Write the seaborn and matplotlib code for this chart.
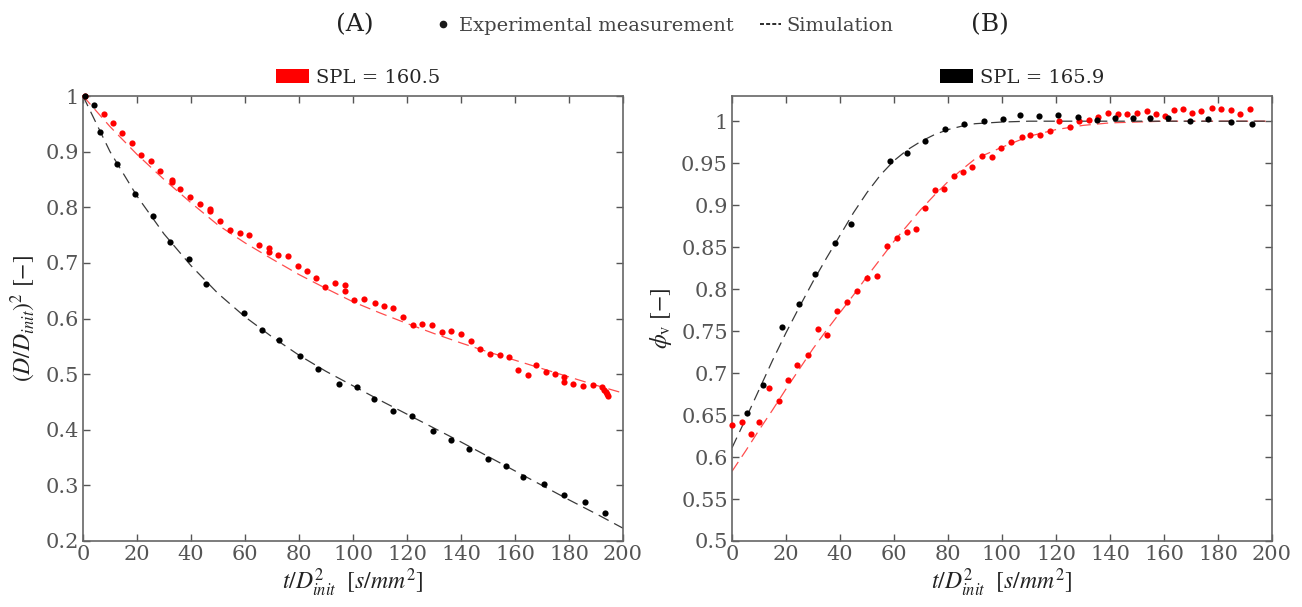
import matplotlib
matplotlib.use("Agg")
import matplotlib.pyplot as plt
from matplotlib.lines import Line2D
from matplotlib.patches import Patch
from matplotlib.ticker import FuncFormatter
import numpy as np
import pandas as pd
import seaborn as sns

# ---------------- data ----------------
# Panel A: (D/D_init)^2 vs t/D_init^2
a_red_x = [0.7, 7.8, 11.0, 14.6, 18.0, 21.5, 25.1, 28.5, 32.8, 32.8, 36.0, 39.6, 43.3, 47.2, 47.2,
           50.7, 54.4, 58.1, 61.6, 65.3, 69.0, 69.0, 72.3, 76.0, 79.5, 83.0, 86.2, 89.6, 93.3, 97.0,
           97.0, 100.5, 104.2, 108.0, 111.4, 114.9, 118.4, 122.1, 125.7, 129.3, 132.8, 136.3, 139.9,
           143.6, 147.1, 150.7, 154.4, 157.9, 161.2, 164.7, 167.9, 171.4, 174.8, 178.3, 178.3, 181.6,
           185.3, 188.8, 192.3, 193.0, 193.6, 194.0, 194.3]
a_red_y = [1.0, 0.967, 0.952, 0.933, 0.915, 0.894, 0.883, 0.865, 0.849, 0.845, 0.833, 0.818, 0.806,
           0.797, 0.793, 0.776, 0.760, 0.754, 0.751, 0.733, 0.727, 0.720, 0.715, 0.712, 0.695, 0.685,
           0.673, 0.657, 0.663, 0.661, 0.649, 0.633, 0.635, 0.628, 0.622, 0.618, 0.602, 0.588, 0.590,
           0.588, 0.575, 0.577, 0.573, 0.560, 0.545, 0.537, 0.534, 0.531, 0.508, 0.498, 0.517, 0.504,
           0.501, 0.494, 0.486, 0.483, 0.479, 0.480, 0.476, 0.472, 0.468, 0.464, 0.461]
a_blk_x = [0.7, 4.1, 6.3, 12.7, 19.4, 25.8, 32.2, 39.3, 45.6, 59.7, 66.2, 72.5, 80.4, 87.2, 94.7,
           101.4, 107.8, 114.9, 122.0, 129.5, 136.3, 143.0, 149.9, 156.5, 162.9, 170.9, 178.1,
           185.9, 193.3]
a_blk_y = [1.0, 0.984, 0.936, 0.877, 0.823, 0.784, 0.737, 0.707, 0.662, 0.610, 0.579, 0.562, 0.532,
           0.510, 0.483, 0.476, 0.456, 0.433, 0.424, 0.398, 0.382, 0.365, 0.348, 0.335, 0.315, 0.303,
           0.282, 0.271, 0.251]
a_sim_x = [0, 10, 20, 30, 40, 50, 60, 70, 80, 90, 100, 110, 120, 130, 140, 150, 160, 170, 180, 190, 200]
a_sim_red = [1.0, 0.945, 0.895, 0.850, 0.808, 0.768, 0.736, 0.707, 0.679, 0.654, 0.630, 0.610,
             0.591, 0.573, 0.556, 0.540, 0.525, 0.510, 0.495, 0.480, 0.466]
a_sim_blk = [1.0, 0.900, 0.820, 0.752, 0.695, 0.645, 0.603, 0.567, 0.534, 0.505, 0.479, 0.453,
             0.428, 0.403, 0.378, 0.352, 0.326, 0.300, 0.274, 0.249, 0.223]

# Panel B: phi_v vs t/D_init^2
b_red_x = [0.0, 3.6, 6.9, 10.1, 13.8, 17.4, 20.9, 24.1, 28.0, 32.0, 35.2, 39.0, 42.6, 46.4, 49.9,
           53.6, 57.4, 61.0, 64.7, 68.0, 71.5, 75.3, 78.6, 82.2, 85.6, 88.9, 92.5, 96.2, 99.6, 103.3,
           107.3, 110.5, 114.2, 117.8, 121.2, 125.2, 128.6, 132.1, 135.4, 139.4, 142.8, 146.4, 149.9,
           153.8, 157.0, 160.4, 163.6, 167.2, 170.5, 173.7, 177.8, 181.0, 184.7, 188.1, 191.7]
b_red_y = [0.638, 0.642, 0.628, 0.642, 0.682, 0.667, 0.692, 0.710, 0.722, 0.752, 0.745, 0.774,
           0.785, 0.798, 0.813, 0.816, 0.851, 0.861, 0.868, 0.872, 0.897, 0.918, 0.919, 0.935,
           0.940, 0.945, 0.959, 0.957, 0.968, 0.975, 0.981, 0.983, 0.983, 0.988, 1.000, 0.993,
           1.000, 1.002, 1.005, 1.010, 1.009, 1.008, 1.010, 1.012, 1.009, 1.006, 1.013, 1.015,
           1.010, 1.012, 1.016, 1.014, 1.013, 1.009, 1.015]
b_blk_x = [5.4, 11.6, 18.5, 24.9, 30.9, 38.3, 44.2, 58.5, 64.8, 71.5, 79.0, 85.8, 93.4, 100.5,
           106.7, 113.7, 120.7, 128.3, 135.2, 141.9, 148.5, 154.8, 161.5, 169.6, 176.4, 184.7, 192.5]
b_blk_y = [0.652, 0.686, 0.755, 0.782, 0.818, 0.855, 0.878, 0.952, 0.962, 0.976, 0.991, 0.997,
           1.000, 1.003, 1.007, 1.006, 1.007, 1.005, 1.002, 1.004, 1.004, 1.004, 1.004, 1.000,
           1.003, 0.999, 0.997]
b_sim_x = [0, 5, 10, 15, 20, 25, 30, 35, 40, 45, 50, 55, 60, 65, 70, 75, 80, 85, 90, 95, 100,
           110, 120, 130, 140, 150, 160, 170, 180, 190, 200]
b_sim_red = [0.583, 0.607, 0.632, 0.656, 0.681, 0.705, 0.729, 0.751, 0.772, 0.793, 0.815, 0.836,
             0.857, 0.876, 0.895, 0.912, 0.928, 0.942, 0.955, 0.962, 0.969, 0.982, 0.990, 0.995,
             0.998, 0.999, 1.0, 1.0, 1.0, 1.0, 1.0]
b_sim_blk = [0.611, 0.645, 0.680, 0.715, 0.748, 0.779, 0.809, 0.837, 0.864, 0.891, 0.915, 0.936,
             0.953, 0.966, 0.976, 0.984, 0.990, 0.994, 0.997, 0.998, 0.999, 1.0, 1.0, 1.0, 1.0,
             1.0, 1.0, 1.0, 1.0, 1.0, 1.0]

x_ticks = [0, 20, 40, 60, 80, 100, 120, 140, 160, 180, 200]
a_yticks = [0.2, 0.3, 0.4, 0.5, 0.6, 0.7, 0.8, 0.9, 1.0]
b_yticks = [0.5, 0.55, 0.6, 0.65, 0.7, 0.75, 0.8, 0.85, 0.9, 0.95, 1.0]

header_labels = ["(A)", "(B)"]
legend_labels = ["Experimental measurement", "Simulation"]
spl_labels = ["SPL = 160.5", "SPL = 165.9"]

# ---------------- styling ----------------
sns.set_theme(style="white")
plt.rcParams["font.family"] = ["DejaVu Serif"]
plt.rcParams["mathtext.fontset"] = "stix"

RED = "#ff0000"
BLK = "#000000"
RED_LINE = "#ff4d4d"
BLK_LINE = "#3a3a3a"
GRAY = "#555555"

W, H = 1302, 607
fig = plt.figure(figsize=(W / 100, H / 100), dpi=100)
axA = fig.add_axes([83 / W, 1 - 541 / H, 540 / W, 445 / H])
axB = fig.add_axes([732 / W, 1 - 541 / H, 540 / W, 445 / H])


def draw(ax, rx, ry, bx, by, sx, sred, sblk):
    sim = pd.DataFrame({"x": sx, "red": sred, "blk": sblk})
    sns.lineplot(data=sim, x="x", y="red", ax=ax, color=RED_LINE, lw=0.9,
                 linestyle=(0, (9, 5)), zorder=2)
    sns.lineplot(data=sim, x="x", y="blk", ax=ax, color=BLK_LINE, lw=0.9,
                 linestyle=(0, (9, 5)), zorder=2)
    dr = pd.DataFrame({"x": rx, "y": ry})
    db = pd.DataFrame({"x": bx, "y": by})
    sns.scatterplot(data=dr, x="x", y="y", ax=ax, color=RED, s=20, linewidth=0,
                    zorder=3, clip_on=False)
    sns.scatterplot(data=db, x="x", y="y", ax=ax, color=BLK, s=20, linewidth=0,
                    zorder=3, clip_on=False)


draw(axA, a_red_x, a_red_y, a_blk_x, a_blk_y, a_sim_x, a_sim_red, a_sim_blk)
draw(axB, b_red_x, b_red_y, b_blk_x, b_blk_y, b_sim_x, b_sim_red, b_sim_blk)

fmt = FuncFormatter(lambda v, p: f"{v:g}")
for ax, yt, ylim in [(axA, a_yticks, (0.2, 1.0)), (axB, b_yticks, (0.5, 1.03))]:
    ax.set_xlim(0, 200)
    ax.set_ylim(*ylim)
    ax.set_xticks(x_ticks)
    ax.set_yticks(yt)
    ax.yaxis.set_major_formatter(fmt)
    ax.tick_params(direction="in", length=5, width=1, colors=GRAY, labelsize=15,
                   top=True, right=True, bottom=True, left=True, pad=3)
    for sp in ax.spines.values():
        sp.set_visible(True)
        sp.set_color("#666666")
        sp.set_linewidth(1.2)
    ax.set_xlabel(r"$t/D^{2}_{init}\ \ [s/mm^{2}]$", fontsize=17, color="#222222", labelpad=2)

axA.set_ylabel(r"$(D/D_{init})^{2}\ [-]$", fontsize=17, color="#222222", labelpad=5)
axB.set_ylabel(r"$\phi_{\mathrm{v}}\ [-]$", fontsize=17, color="#222222", labelpad=5)

# SPL legends above each panel
for ax, col, lab, xa in [(axA, RED, spl_labels[0], 0.510), (axB, BLK, spl_labels[1], 0.537)]:
    ax.legend(handles=[Patch(facecolor=col, edgecolor="none")], labels=[lab],
              loc="lower center", bbox_to_anchor=(xa, 0.995), frameon=False,
              fontsize=14, handlelength=1.7, handleheight=0.75, handletextpad=0.35,
              borderaxespad=0.2)

# Header
fig.text(355 / W, 1 - 25 / H, header_labels[0], fontsize=18, ha="center", va="center",
         color="#222222")
fig.text(990 / W, 1 - 25 / H, header_labels[1], fontsize=18, ha="center", va="center",
         color="#222222")
hdl = [Line2D([], [], ls="none", marker="o", markersize=4.5, color="k"),
       Line2D([], [], ls=(0, (2.2, 1.2)), lw=1.3, color="k")]
fig.legend(handles=hdl, labels=legend_labels, loc="center", bbox_to_anchor=(663 / W, 1 - 26 / H),
           ncol=2, frameon=False, fontsize=14, handlelength=1.1, handletextpad=0.3,
           columnspacing=1.3, labelcolor="#444444")

fig.savefig("out.png", dpi=100)
